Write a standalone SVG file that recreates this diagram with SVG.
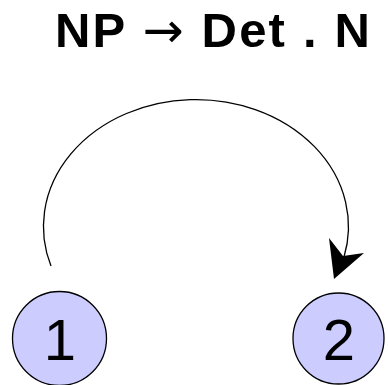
<svg xmlns="http://www.w3.org/2000/svg" width="388" height="385" viewBox="0 0 388 385">
<style>
.node circle{fill:#ccccff;stroke:#000;stroke-width:1.3}
.node text{font-family:"Liberation Sans",Arial,sans-serif;font-size:58px;text-anchor:middle;fill:#000}
.title{font-family:"Liberation Sans",Arial,sans-serif;font-size:49px;font-weight:bold;fill:#000}
.arr{font-family:"DejaVu Sans",sans-serif;font-weight:normal}
.edge{fill:none;stroke:#000;stroke-width:1.3}
</style>
<rect width="388" height="385" fill="#fff"/>
<text class="title" x="55" y="47" textLength="315" lengthAdjust="spacing">NP <tspan class="arr">→</tspan> Det . N</text>
<g id="connectors">
<path class="edge" d="M51,266 A152.5,127 0 1 1 344,257"/>
<polygon points="334,279 329,238 343,256 364,253" fill="#000"/>
</g>
<g id="node1" class="node">
<circle cx="59.5" cy="338.5" r="47"/>
<text x="60" y="360">1</text>
</g>
<g id="node2" class="node">
<circle cx="338.5" cy="338.5" r="45.5"/>
<text x="339" y="360">2</text>
</g>
</svg>
